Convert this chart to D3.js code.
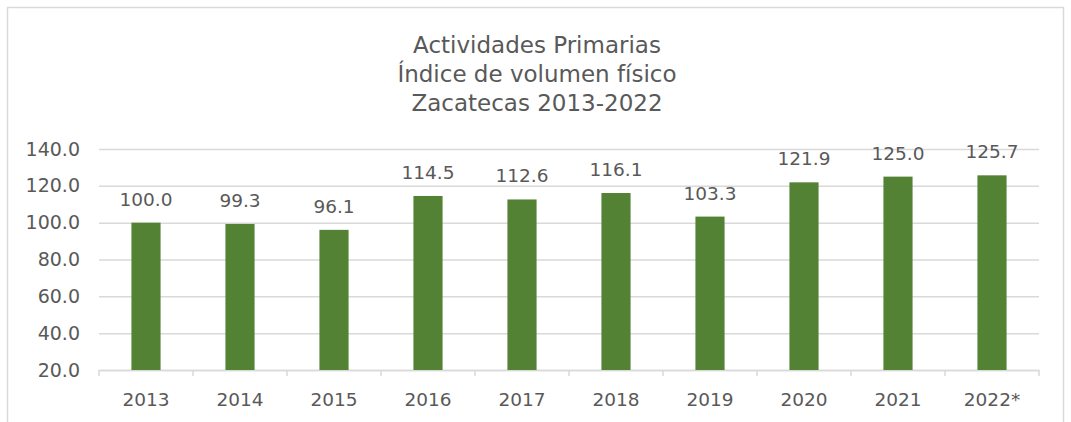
<!DOCTYPE html>
<html>
<head>
<meta charset="utf-8">
<script src="https://cdn.jsdelivr.net/npm/d3@7"></script>
<style>
  body { margin:0; background:#fff; }
  svg text { font-family: "DejaVu Sans", sans-serif; fill:#595959; }
</style>
</head>
<body>
<div class="svg-container"></div>
<script>
//data
const years = ['2013','2014','2015','2016','2017','2018','2019','2020','2021','2022*'];
const values = [100.0, 99.3, 96.1, 114.5, 112.6, 116.1, 103.3, 121.9, 125.0, 125.7];
const yTicks = [20, 40, 60, 80, 100, 120, 140];
const titleLines = ['Actividades Primarias', 'Índice de volumen físico', 'Zacatecas 2013-2022'];

//dimensions
const W = 1071, H = 422;
const margin = { top:149, right:32, bottom:52, left:99 };

const svg = d3.select('.svg-container')
    .append('svg')
    .attr('width', W)
    .attr('height', H)

//outer frame
svg.append('rect')
    .attr('x', 7.5).attr('y', 7.5)
    .attr('width', W-15).attr('height', H)
    .attr('fill', 'none')
    .attr('stroke', '#d9d9d9')
    .attr('stroke-width', 1.5)

//title
svg.selectAll('.title')
    .data(titleLines)
    .join('text')
    .attr('class', 'title')
    .attr('x', 537)
    .attr('y', (d,i) => 53 + i*29)
    .attr('text-anchor', 'middle')
    .attr('font-size', 23)
    .text(d => d)

//scales
const x = d3.scaleBand()
    .domain(years)
    .range([margin.left, W-margin.right])
    .paddingInner(0.69)
    .paddingOuter(0.345)

const xb = d3.scaleBand()
    .domain(years)
    .range([margin.left, W-margin.right])

const y = d3.scaleLinear()
    .domain([20, 140])
    .range([H-margin.bottom, margin.top])

//gridlines
svg.append('g')
    .call(d3.axisLeft(y).tickValues(yTicks).tickSize(-(W-margin.right-margin.left)).tickFormat(d => d.toFixed(1)))
    .attr('transform', `translate(${margin.left}, 0)`)
    .call(g => g.select('.domain').remove())
    .call(g => g.selectAll('.tick line').attr('stroke', '#d9d9d9').attr('stroke-width', 1.5))
    .call(g => g.selectAll('.tick text').attr('x', -19).attr('font-size', 19).attr('fill', '#595959'))

//x axis
svg.append('g')
    .attr('transform', `translate(0, ${y(20)})`)
    .call(d3.axisBottom(xb).tickSize(0))
    .call(g => g.select('.domain').attr('stroke', '#d9d9d9').attr('stroke-width', 1.5))
    .call(g => g.selectAll('.tick text').attr('dy', 0).attr('y', 36).attr('font-size', 18.5).attr('fill', '#595959'))

//category separators
svg.selectAll('.sep')
    .data(d3.range(years.length+1))
    .join('line')
    .attr('class', 'sep')
    .attr('x1', i => margin.left + i*xb.step())
    .attr('x2', i => margin.left + i*xb.step())
    .attr('y1', y(20))
    .attr('y2', y(20)+6)
    .attr('stroke', '#d9d9d9')
    .attr('stroke-width', 1.5)

//bars
svg.selectAll('.bars')
    .data(values)
    .join('rect')
    .attr('class', 'bars')
    .attr('x', (d,i) => x(years[i]))
    .attr('y', d => y(d))
    .attr('width', x.bandwidth())
    .attr('height', d => y(20) - y(d))
    .attr('fill', '#548235')

//value labels
svg.selectAll('.val')
    .data(values)
    .join('text')
    .attr('class', 'val')
    .attr('x', (d,i) => x(years[i]) + x.bandwidth()/2)
    .attr('y', d => y(d) - 17)
    .attr('text-anchor', 'middle')
    .attr('font-size', 18.5)
    .text(d => d.toFixed(1))
</script>
</body>
</html>
